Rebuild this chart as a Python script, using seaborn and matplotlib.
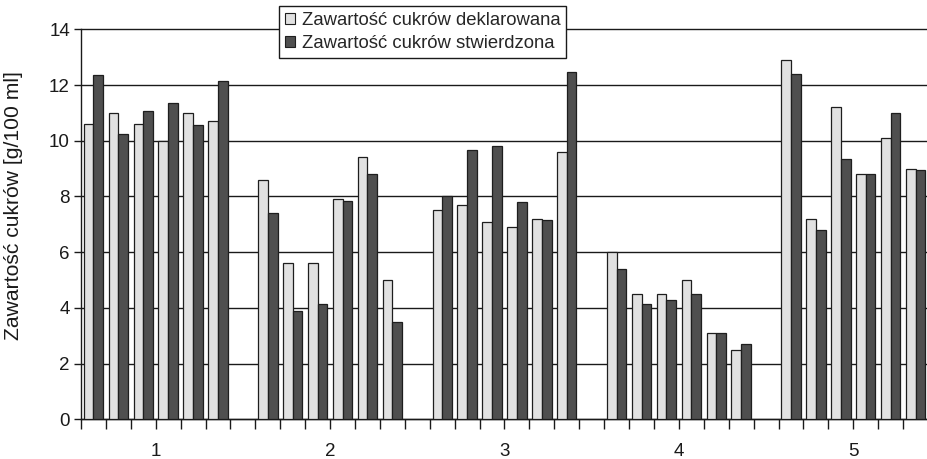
import pandas as pd
import matplotlib.pyplot as plt
import seaborn as sns
from matplotlib.patches import Patch

# values, 5 groups x 6 samples
groups = ['1', '2', '3', '4', '5']
declared = [
    [10.6, 11.0, 10.6, 10.0, 11.0, 10.7],
    [8.6, 5.6, 5.6, 7.9, 9.4, 5.0],
    [7.5, 7.7, 7.1, 6.9, 7.2, 9.6],
    [6.0, 4.5, 4.5, 5.0, 3.1, 2.5],
    [12.9, 7.2, 11.2, 8.8, 10.1, 9.0],
]
measured = [
    [12.35, 10.25, 11.05, 11.35, 10.55, 12.15],
    [7.4, 3.9, 4.15, 7.85, 8.8, 3.5],
    [8.0, 9.65, 9.8, 7.8, 7.15, 12.45],
    [5.4, 4.15, 4.3, 4.5, 3.1, 2.7],
    [12.4, 6.8, 9.35, 8.8, 11.0, 8.95],
]
series_names = ['Zawartość cukrów deklarowana', 'Zawartość cukrów stwierdzona']
colors = ['#e1e1e1', '#4f4f4f']

rows = []
order = []
for gi, g in enumerate(groups):
    for p in range(6):
        slot = f'{g}.{p + 1}'
        order.append(slot)
        rows.append((slot, series_names[0], declared[gi][p]))
        rows.append((slot, series_names[1], measured[gi][p]))
    order.append(f'{g}.gap')  # empty slot between groups
df = pd.DataFrame(rows, columns=['slot', 'series', 'value'])

sns.set_style('white')
plt.rcParams['font.family'] = ['Liberation Sans', 'DejaVu Sans']

fig = plt.figure(figsize=(9.28, 4.59), dpi=100)
ax = fig.add_axes([81 / 928, 1 - 419.3 / 459, 847 / 928, 390 / 459])

sns.barplot(data=df, x='slot', y='value', hue='series', order=order,
            hue_order=series_names, palette=colors, width=0.78,
            edgecolor='#1e1e1e', linewidth=0.9, saturation=1, ax=ax,
            legend=False, zorder=3)

ax.set_xlim(-0.5, 33.25)
ax.set_ylim(0, 14)
ax.set_yticks(range(0, 15, 2))
ax.yaxis.grid(True, color='#1a1a1a', linewidth=1.0, zorder=0)
ax.set_axisbelow(True)
for gl in ax.get_ygridlines():
    gl.set_clip_on(False)

# tick marks at slot boundaries, group labels centered under the pairs
ax.xaxis.remove_overlapping_locs = False
ax.set_xticks([i - 0.5 for i in range(35)])
ax.set_xticklabels([])
ax.set_xticks([gi * 7 + 2.5 for gi in range(len(groups))], minor=True)
ax.set_xticklabels(groups, minor=True)
ax.tick_params(axis='x', which='major', bottom=True, direction='out',
               length=7, width=1, color='#1a1a1a')
ax.tick_params(axis='x', which='minor', bottom=True, labelbottom=True,
               length=0, pad=17, labelsize=13.5, labelcolor='#1a1a1a')
ax.tick_params(axis='y', left=True, direction='out', length=5, width=1,
               color='#1a1a1a', labelsize=13.5, labelcolor='#1a1a1a', pad=3)

for s in ['top', 'right']:
    ax.spines[s].set_visible(False)
for s in ['left', 'bottom']:
    ax.spines[s].set_color('#1a1a1a')
    ax.spines[s].set_linewidth(1.0)

ax.set_xlabel('')
ax.set_ylabel('Zawartość cukrów [g/100 ml]', fontsize=15.2, color='#1a1a1a')
ax.yaxis.set_label_coords(-58 / 847, (419.3 - 206) / 390)

handles = [Patch(facecolor=c, edgecolor='#1e1e1e', linewidth=0.8) for c in colors]
leg = fig.legend(handles, series_names, loc='upper left',
                 bbox_to_anchor=(279 / 928, 1 - 6 / 459), fontsize=13.3,
                 frameon=True, fancybox=False, handlelength=0.55, handleheight=0.55,
                 handletextpad=0.35, borderpad=0.32, labelspacing=0.35,
                 borderaxespad=0)
leg.get_frame().set_edgecolor('#1a1a1a')
leg.get_frame().set_linewidth(1.0)
leg.get_frame().set_facecolor('white')
leg.get_frame().set_alpha(1)

fig.savefig('out.png', dpi=100)
